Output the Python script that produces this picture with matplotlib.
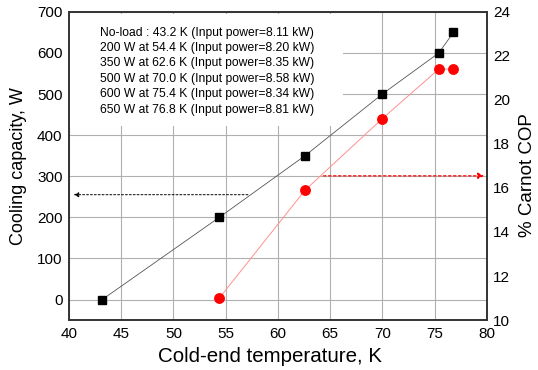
import matplotlib
matplotlib.use("Agg")
import matplotlib.pyplot as plt
from matplotlib.patches import Rectangle

plt.rcParams['font.family'] = ['Liberation Sans', 'DejaVu Sans']

# Measured operating points
temperature_K = [43.2, 54.4, 62.6, 70.0, 75.4, 76.8]
cooling_W = [0, 200, 350, 500, 600, 650]
carnot_temp_K = [54.4, 62.6, 70.0, 75.4, 76.8]
carnot_pct = [11.0, 15.9, 19.15, 21.4, 21.4]
input_power_kW = [8.11, 8.20, 8.35, 8.58, 8.34, 8.81]

x_ticks = [40, 45, 50, 55, 60, 65, 70, 75, 80]
y_ticks = [0, 100, 200, 300, 400, 500, 600, 700]
y2_ticks = [10, 12, 14, 16, 18, 20, 22, 24]

# arrow guides: capacity read-out (left) and COP read-out (right)
cap_arrow = (57.4, 255)
cop_arrow = (64.1, 16.55)

fig = plt.figure(figsize=(5.38, 3.70), dpi=100)
ax = fig.add_axes([0.128, 0.135, 0.777, 0.833])
ax2 = ax.twinx()

ax.set_xlim(40, 80)
ax.set_ylim(-50, 700)
ax2.set_ylim(10, 24)
ax.set_xticks(x_ticks)
ax.set_yticks(y_ticks)
ax2.set_yticks(y2_ticks)

ax.grid(True, color='#b0b0b0', linewidth=0.8)
ax.set_axisbelow(True)
for a in (ax, ax2):
    a.tick_params(length=0, labelsize=11, pad=4.5)
    for s in a.spines.values():
        s.set_linewidth(1.2)
        s.set_color('#333333')
ax.tick_params(axis='x', pad=5)

# white panel behind the annotation text, hiding the grid there
ax.add_patch(Rectangle((0.0, 0.63), 0.655, 0.364, transform=ax.transAxes,
                       facecolor='white', edgecolor='none', zorder=1.5))

ax.plot(temperature_K, cooling_W, color='#555555', linewidth=0.6,
        marker='s', markersize=6, markerfacecolor='black',
        markeredgecolor='black', zorder=3)
ax2.plot(carnot_temp_K, carnot_pct, color='#ff9090', linewidth=0.7,
         marker='o', markersize=6.8, markerfacecolor='red',
         markeredgecolor='red', zorder=3)

ax.annotate('', xy=(40.2, cap_arrow[1]), xytext=cap_arrow,
            arrowprops=dict(arrowstyle='-|>', linestyle=(0, (2, 2)),
                            color='black', linewidth=0.7,
                            mutation_scale=7), zorder=4)
ax2.annotate('', xy=(80, cop_arrow[1]), xytext=cop_arrow,
             arrowprops=dict(arrowstyle='-|>', linestyle=(0, (2, 2)),
                             color='red', linewidth=0.9,
                             mutation_scale=9), zorder=4)

lines = []
for t, q, p in zip(temperature_K, cooling_W, input_power_kW):
    if q == 0:
        lines.append(f"No-load : {t:.1f} K (Input power={p:.2f} kW)")
    else:
        lines.append(f"{q} W at {t:.1f} K (Input power={p:.2f} kW)")
ax.text(0.074, 0.952, "\n".join(lines), transform=ax.transAxes,
        fontsize=8.7, va='top', ha='left', linespacing=1.38, zorder=5)

ax.set_xlabel('Cold-end temperature, K', fontsize=14.8)
ax.set_ylabel('Cooling capacity, W', fontsize=13)
ax2.set_ylabel('% Carnot COP', fontsize=13.5)
ax.xaxis.set_label_coords(0.481, -0.088)
ax.yaxis.set_label_coords(-0.1, 0.5)
ax2.yaxis.set_label_coords(1.078, 0.47)

fig.savefig('out.png', dpi=100)
